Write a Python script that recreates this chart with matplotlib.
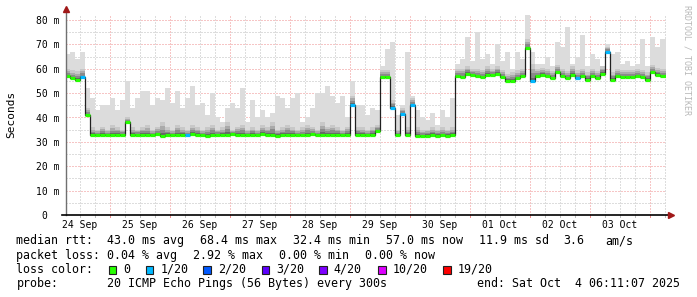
import matplotlib
matplotlib.use("Agg")
import matplotlib.pyplot as plt
import numpy as np
from matplotlib.patches import Rectangle

plt.rcParams['font.family'] = ['DejaVu Sans Mono']

# 2 hour bins, hours counted from 24 Sep 00:00, first bin starts at 06:00
bin_start_hour = 6
bin_hours = 2
end_hour = 246.2

# median rtt (ms) per bin
median_ms = [
    57.0, 56.0, 55.5, 56.5, 41.0,
    32.8, 32.8, 33.0, 32.8, 32.7, 32.9, 33.0, 38.0,
    32.8, 33.0, 32.9, 32.7, 32.8, 33.1, 32.6, 32.8, 32.9, 33.0,
    32.8, 32.7, 33.2, 32.9, 32.8, 32.6, 32.9, 33.0, 32.8, 32.9,
    33.2, 33.0, 32.8, 32.7, 32.9, 32.8, 33.1, 32.9, 32.8, 32.6,
    32.8, 33.0, 32.9, 32.8, 32.7, 32.9, 33.2, 32.8, 32.9, 33.0,
    32.8, 32.9, 32.8, 33.0,
    45.0,
    32.9, 32.8, 32.7, 32.9, 34.5,
    56.5, 56.5, 44.0,
    32.8, 41.5, 32.8, 45.0,
    32.4, 32.5, 32.6, 32.8, 32.6, 32.7, 32.6, 32.8,
    57.0, 56.5, 58.0, 57.5, 57.0, 56.5, 57.5, 57.5, 58.0, 56.5, 55.0, 55.0, 56.0,
    57.0, 68.4, 55.0, 57.0, 57.5, 57.0, 56.0, 58.5, 57.0, 56.0,
    57.5, 56.0, 57.0, 55.5, 57.0, 56.0, 58.0, 67.0, 55.5, 57.0,
    56.5, 56.5, 56.5, 57.0, 56.5, 55.5, 58.5, 57.5, 57.0,
]

# highest ping of each bin (light smoke top)
smoke_max_ms = [
    66, 67, 64, 67, 52, 48, 43, 45, 45, 48, 43, 47, 55,
    44, 48, 51, 51, 45, 48, 47, 52, 46, 51, 44, 48, 53, 45, 46, 41,
    50, 40, 38, 44, 46, 44, 52, 38, 47, 40,
    43, 40, 42, 49, 48, 44, 48, 50, 38, 40,
    44, 50, 50, 53, 49, 46, 49, 40, 55, 45, 45,
    41, 44, 43, 61, 68, 71, 41, 45, 67, 49,
    43, 40, 39, 42, 37, 43, 40, 48, 62, 64,
    73, 63, 75, 64, 66, 62, 70, 63, 67, 60, 67,
    64, 82, 67, 62, 62, 65, 61, 71, 69, 77,
    62, 65, 74, 61, 66, 64, 61, 70, 66, 67,
    62, 63, 61, 62, 72, 61, 73, 69, 72,
]

# top of the dense (dark) part of the smoke
smoke_mid_ms = [
    60, 59.5, 59, 60, 44,
    36, 35, 36, 35, 37, 36, 35, 40,
    36, 35, 36, 37, 35, 36, 38, 36, 35, 37,
    36, 35, 37, 36, 35, 36, 37, 35, 36, 38,
    35, 36, 37, 35, 36, 35, 37, 36, 38, 35,
    36, 37, 36, 35, 36, 37, 36, 35, 38, 36,
    37, 36, 35, 36,
    49,
    36, 36, 35, 36, 37,
    59.5, 59.5, 47,
    35, 44, 36, 48,
    36, 35, 35, 36, 35, 36, 35, 36,
    60, 60, 61, 60, 60, 59.5, 61, 60, 61, 59.5, 58, 58.5, 59.5,
    60, 72, 62, 60, 60.5, 60, 59, 61.5, 60, 59,
    61, 59.5, 60, 58.5, 60, 59, 61, 69, 58.5, 60,
    59.5, 59.5, 59.5, 60, 59.5, 58.5, 61.5, 60.5, 60,
]

# bins with lost pings (out of 20)
loss_bins = [3, 24, 57, 65, 67, 69, 93, 102, 108]
loss_counts = [1, 1, 1, 1, 1, 1, 1, 1, 1]

day_labels = ["24 Sep", "25 Sep", "26 Sep", "27 Sep", "28 Sep",
              "29 Sep", "30 Sep", "01 Oct", "02 Oct", "03 Oct"]
ytick_labels = ["0  ", "10 m", "20 m", "30 m", "40 m", "50 m", "60 m", "70 m", "80 m"]

loss_names = ["0", "1/20", "2/20", "3/20", "4/20", "10/20", "19/20"]
loss_limits = [0, 1, 2, 3, 4, 10, 19]
loss_colors = ["#26ff00", "#00b8ff", "#0059ff", "#5e00ff", "#7e00ff", "#dd00ff", "#ff0000"]

assert len(median_ms) == len(smoke_max_ms) == len(smoke_mid_ms) == 120

W, H = 697, 297
fig = plt.figure(figsize=(W / 100, H / 100), dpi=100)
fig.patch.set_facecolor("white")
ax = fig.add_axes([65.5 / W, (H - 215) / H, 600 / W, 200 / H])
ax.set_xlim(6.2, end_hour)
ax.set_ylim(0, 200 / 2.4375)
for s in ax.spines.values():
    s.set_visible(False)

# dotted grid: red every 10 ms / every day, grey every 5 ms / 6 hours
red_grid, grey_grid = "#ee8c8c", "#bdbdbd"
for v in range(5, 81, 5):
    ax.axhline(v, color=red_grid if v % 10 == 0 else grey_grid,
               lw=0.72, dashes=(1, 2), zorder=0)
for h in range(12, 247, 6):
    red = h % 24 == 0
    ax.axvline(h, color=red_grid if red else grey_grid, lw=0.72, dashes=(1, 2), zorder=0)
    ax.plot([h, h], [0, -0.012], transform=ax.get_xaxis_transform(),
            color=red_grid if red else grey_grid, lw=0.72, clip_on=False, zorder=1)

med = np.array(median_ms, dtype=float)
smax = np.array(smoke_max_ms, dtype=float)
smid = np.array(smoke_mid_ms, dtype=float)
edges = bin_start_hour + bin_hours * np.arange(len(med) + 1, dtype=float)
edges[-1] = end_hour

# smoke
ax.stairs(smax, edges, baseline=med, fill=True, color="#dcdcdc", zorder=2)
for frac, col in zip([1.0, 0.7, 0.45, 0.2], ["#c8c8c8", "#aaaaaa", "#8a8a8a", "#666666"]):
    ax.stairs(med + (smid - med) * frac, edges, baseline=med, fill=True, color=col, zorder=2)

# median line coloured by loss
lost = np.zeros(len(med), dtype=int)
lost[loss_bins] = loss_counts
seg_colors = []
for n in lost:
    k = max(i for i, lim in enumerate(loss_limits) if lim <= n)
    seg_colors.append(loss_colors[k])
ax.stairs(med, edges, baseline=None, color="#202020", lw=0.9, zorder=3)
ax.hlines(med, edges[:-1], edges[1:], colors=seg_colors, lw=2.3, zorder=4)

# axes with arrows
ax.plot([0, 0], [0, 1.02], transform=ax.transAxes, color="#707070", lw=1.0, clip_on=False, zorder=5)
ax.plot([-0.006, 1.006], [0, 0], transform=ax.transAxes, color="black", lw=1.2, clip_on=False, zorder=5)
ax.plot([0.0015], [1.03], marker="^", ms=5, color="#a01818", transform=ax.transAxes, clip_on=False, zorder=6)
ax.plot([1.009], [0], marker=">", ms=5, color="#a01818", transform=ax.transAxes, clip_on=False, zorder=6)

ax.set_xticks([12 + 24 * i for i in range(len(day_labels))], day_labels)
ax.set_yticks(range(0, 81, 10), ytick_labels)
ax.tick_params(axis="x", length=0, pad=3.6, labelsize=7)
ax.tick_params(axis="y", length=0, pad=4.5, labelsize=7)


def px(x, y):
    return x / W, 1 - y / H


fig.text(*px(11, 114), "Seconds", rotation=90, ha="center", va="center", fontsize=8)
fig.text(*px(687, 60), "RRDTOOL / TOBI OETIKER", rotation=270, ha="center", va="center",
         fontsize=6, color="#b8b8b8")

fs = 8.35
rows = [
    (244.3, [(16.4, "median rtt:"), (107.3, "43.0 ms avg"), (200, "68.4 ms max"),
             (293.3, "32.4 ms min"), (386, "57.0 ms now"), (479, "11.9 ms sd"),
             (563, "3.6"), (605, "am/s")]),
    (258.7, [(16.4, "packet loss:"), (107.3, "0.04 % avg"), (193.3, "2.92 % max"),
             (279.3, "0.00 % min"), (365, "0.00 % now")]),
    (272.7, [(16.4, "loss color:")]),
    (287, [(16.4, "probe:"), (107.3, "20 ICMP Echo Pings (56 Bytes) every 300s"),
           (476.7, "end: Sat Oct  4 06:11:07 2025")]),
]
for base, items in rows:
    for x, t in items:
        fig.text(*px(x, base), t, ha="left", va="baseline", fontsize=fs)

box_x = [108.6, 145.7, 203.3, 261.7, 319.3, 378.3, 443.3]
for bx, name, col in zip(box_x, loss_names, loss_colors):
    x0, y0 = px(bx, 273.5)
    fig.add_artist(Rectangle((x0, y0), 7.5 / W, 8 / H, transform=fig.transFigure,
                             facecolor=col, edgecolor="#202020", lw=0.8))
    fig.text(*px(bx + 14.5, 272.7), name, ha="left", va="baseline", fontsize=fs)

fig.savefig("out.png", dpi=100, facecolor="white")
